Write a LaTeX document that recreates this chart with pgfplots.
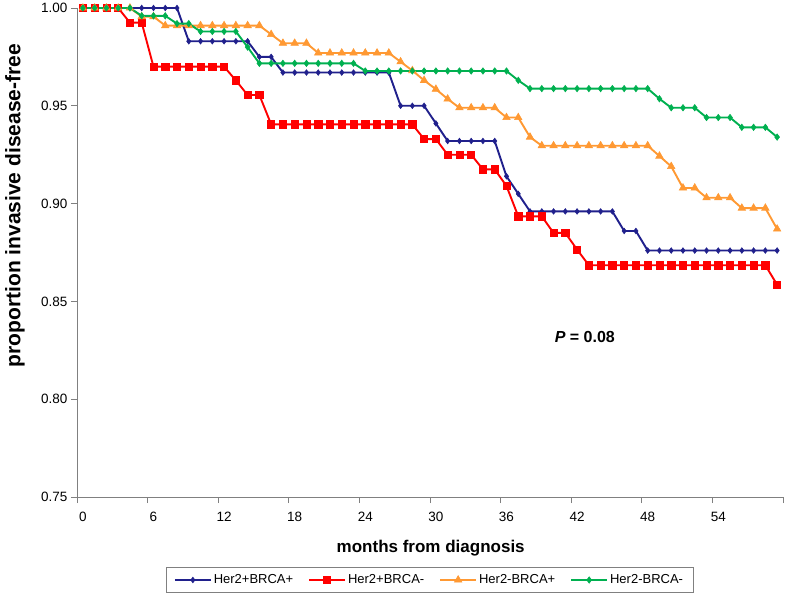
\documentclass[border=0pt]{standalone}
\usepackage{pgfplots}
\usepackage{pgfplotstable}
\pgfplotsset{compat=1.18}
\usepackage{fontspec}
\setmainfont{Liberation Sans}

\definecolor{cblue}{RGB}{32,32,140}
\definecolor{cred}{RGB}{255,0,0}
\definecolor{corange}{RGB}{255,153,51}
\definecolor{cgreen}{RGB}{0,176,80}
\definecolor{caxis}{RGB}{128,128,128}

% Her2+BRCA+
\pgfplotstableread[row sep=\\]{
m v\\
0 1.000\\ 1 1.000\\ 2 1.000\\ 3 1.000\\ 4 1.000\\ 5 1.000\\ 6 1.000\\ 7 1.000\\ 8 1.000\\
9 0.983\\ 10 0.983\\ 11 0.983\\ 12 0.983\\ 13 0.983\\ 14 0.983\\
15 0.975\\ 16 0.975\\
17 0.967\\ 18 0.967\\ 19 0.967\\ 20 0.967\\ 21 0.967\\ 22 0.967\\ 23 0.967\\ 24 0.967\\ 25 0.967\\ 26 0.967\\
27 0.950\\ 28 0.950\\ 29 0.950\\
30 0.941\\
31 0.932\\ 32 0.932\\ 33 0.932\\ 34 0.932\\ 35 0.932\\
36 0.914\\ 37 0.905\\
38 0.896\\ 39 0.896\\ 40 0.896\\ 41 0.896\\ 42 0.896\\ 43 0.896\\ 44 0.896\\ 45 0.896\\
46 0.886\\ 47 0.886\\
48 0.876\\ 49 0.876\\ 50 0.876\\ 51 0.876\\ 52 0.876\\ 53 0.876\\ 54 0.876\\ 55 0.876\\ 56 0.876\\ 57 0.876\\ 58 0.876\\ 59 0.876\\
}\tblA

% Her2+BRCA-
\pgfplotstableread[row sep=\\]{
m v\\
0 1.000\\ 1 1.000\\ 2 1.000\\ 3 1.000\\
4 0.9925\\ 5 0.9925\\
6 0.970\\ 7 0.970\\ 8 0.970\\ 9 0.970\\ 10 0.970\\ 11 0.970\\ 12 0.970\\
13 0.963\\
14 0.9555\\ 15 0.9555\\
16 0.9405\\ 17 0.9405\\ 18 0.9405\\ 19 0.9405\\ 20 0.9405\\ 21 0.9405\\ 22 0.9405\\ 23 0.9405\\ 24 0.9405\\ 25 0.9405\\ 26 0.9405\\ 27 0.9405\\ 28 0.9405\\
29 0.933\\ 30 0.933\\
31 0.925\\ 32 0.925\\ 33 0.925\\
34 0.9175\\ 35 0.9175\\
36 0.909\\
37 0.8935\\ 38 0.8935\\ 39 0.8935\\
40 0.885\\ 41 0.885\\
42 0.8765\\
43 0.8685\\ 44 0.8685\\ 45 0.8685\\ 46 0.8685\\ 47 0.8685\\ 48 0.8685\\ 49 0.8685\\ 50 0.8685\\ 51 0.8685\\ 52 0.8685\\ 53 0.8685\\ 54 0.8685\\ 55 0.8685\\ 56 0.8685\\ 57 0.8685\\ 58 0.8685\\
59 0.8585\\
}\tblB

% Her2-BRCA+
\pgfplotstableread[row sep=\\]{
m v\\
0 1.000\\ 1 1.000\\ 2 1.000\\ 3 1.000\\ 4 1.000\\
5 0.9956\\ 6 0.9956\\
7 0.991\\ 8 0.991\\ 9 0.991\\ 10 0.991\\ 11 0.991\\ 12 0.991\\ 13 0.991\\ 14 0.991\\ 15 0.991\\
16 0.9865\\
17 0.982\\ 18 0.982\\ 19 0.982\\
20 0.977\\ 21 0.977\\ 22 0.977\\ 23 0.977\\ 24 0.977\\ 25 0.977\\ 26 0.977\\
27 0.9725\\ 28 0.968\\ 29 0.963\\ 30 0.9585\\ 31 0.9535\\
32 0.949\\ 33 0.949\\ 34 0.949\\ 35 0.949\\
36 0.944\\ 37 0.944\\
38 0.934\\
39 0.9296\\ 40 0.9296\\ 41 0.9296\\ 42 0.9296\\ 43 0.9296\\ 44 0.9296\\ 45 0.9296\\ 46 0.9296\\ 47 0.9296\\ 48 0.9296\\
49 0.9243\\ 50 0.919\\
51 0.908\\ 52 0.908\\
53 0.903\\ 54 0.903\\ 55 0.903\\
56 0.8977\\ 57 0.8977\\ 58 0.8977\\
59 0.887\\
}\tblC

% Her2-BRCA-
\pgfplotstableread[row sep=\\]{
m v\\
0 1.000\\ 1 1.000\\ 2 1.000\\ 3 1.000\\ 4 1.000\\
5 0.996\\ 6 0.996\\ 7 0.996\\
8 0.992\\ 9 0.992\\
10 0.988\\ 11 0.988\\ 12 0.988\\ 13 0.988\\
14 0.980\\
15 0.9717\\ 16 0.9717\\ 17 0.9717\\ 18 0.9717\\ 19 0.9717\\ 20 0.9717\\ 21 0.9717\\ 22 0.9717\\ 23 0.9717\\
24 0.9678\\ 25 0.9678\\ 26 0.9678\\ 27 0.9678\\ 28 0.9678\\ 29 0.9678\\ 30 0.9678\\ 31 0.9678\\ 32 0.9678\\ 33 0.9678\\ 34 0.9678\\ 35 0.9678\\ 36 0.9678\\
37 0.963\\
38 0.9588\\ 39 0.9588\\ 40 0.9588\\ 41 0.9588\\ 42 0.9588\\ 43 0.9588\\ 44 0.9588\\ 45 0.9588\\ 46 0.9588\\ 47 0.9588\\ 48 0.9588\\
49 0.9536\\
50 0.949\\ 51 0.949\\ 52 0.949\\
53 0.944\\ 54 0.944\\ 55 0.944\\
56 0.939\\ 57 0.939\\ 58 0.939\\
59 0.934\\
}\tblD

\begin{document}
\begin{tikzpicture}[x=1pt,y=1pt]
\useasboundingbox (0,0) rectangle (790,598);
\begin{axis}[
  at={(77pt,101pt)}, anchor=south west,
  scale only axis, width=706pt, height=489pt,
  xmin=-0.5, xmax=59.5, ymin=0.75, ymax=1.0,
  clip=false,
  axis lines*=left,
  axis line style={caxis, line width=0.9pt},
  tick style={caxis, line width=0.9pt},
  tick align=outside,
  major tick length=6pt,
  xtick={-0.5,5.5,...,59.5},
  xticklabels={},
  extra x ticks={0,6,12,18,24,30,36,42,48,54},
  extra x tick labels={0,6,12,18,24,30,36,42,48,54},
  extra x tick style={major tick length=0pt},
  x tick label style={font=\fontsize{13.5}{16}\selectfont, yshift=-12pt},
  ytick={0.75,0.80,0.85,0.90,0.95,1.00},
  yticklabel style={font=\fontsize{13.5}{16}\selectfont,
    /pgf/number format/fixed, /pgf/number format/fixed zerofill,
    /pgf/number format/precision=2},
  /pgf/number format/assume math mode=true,
  xlabel={months from diagnosis},
  xlabel style={font=\fontsize{17}{20}\selectfont\bfseries,
    at={(axis description cs:0.501,-0.1043)}, anchor=center},
  ylabel={proportion invasive disease-free},
  ylabel style={font=\fontsize{21}{24}\selectfont\bfseries,
    at={(axis description cs:-0.0878,0.596)}, anchor=center},
  legend columns=4,
  legend style={at={(axis description cs:0.4993,-0.1697)}, anchor=center,
    draw=caxis, line width=0.9pt,
    font=\fontsize{13}{15}\selectfont,
    inner xsep=8pt, inner ysep=5pt,
    /tikz/every even column/.append style={column sep=13pt}},
  legend cell align=left,
  legend image code/.code={%
    \draw[mark repeat=2,mark phase=2,#1,line width=1.8pt]
      plot coordinates {(0pt,0pt) (18pt,0pt) (36pt,0pt)};},
]
\addplot[color=cblue, line width=1.9pt, mark=diamond*, mark size=2.8pt,
  mark options={line width=0.6pt}] table[x=m,y=v]{\tblA};
\addlegendentry{Her2+BRCA+}
\addplot[color=cred, line width=1.9pt, mark=square*, mark size=3.6pt,
  mark options={line width=0.6pt}] table[x=m,y=v]{\tblB};
\addlegendentry{Her2+BRCA-}
\addplot[color=corange, line width=1.9pt, mark=triangle*, mark size=4.3pt,
  mark options={line width=0.6pt}] table[x=m,y=v]{\tblC};
\addlegendentry{Her2-BRCA+}
\addplot[color=cgreen, line width=1.9pt, mark=diamond*, mark size=3.2pt,
  mark options={line width=0.6pt}] table[x=m,y=v]{\tblD};
\addlegendentry{Her2-BRCA-}
\node[font=\fontsize{16}{19}\selectfont\bfseries] at (axis cs:42.66,0.832)
  {\textit{P} = 0.08};
\end{axis}
\end{tikzpicture}
\end{document}
